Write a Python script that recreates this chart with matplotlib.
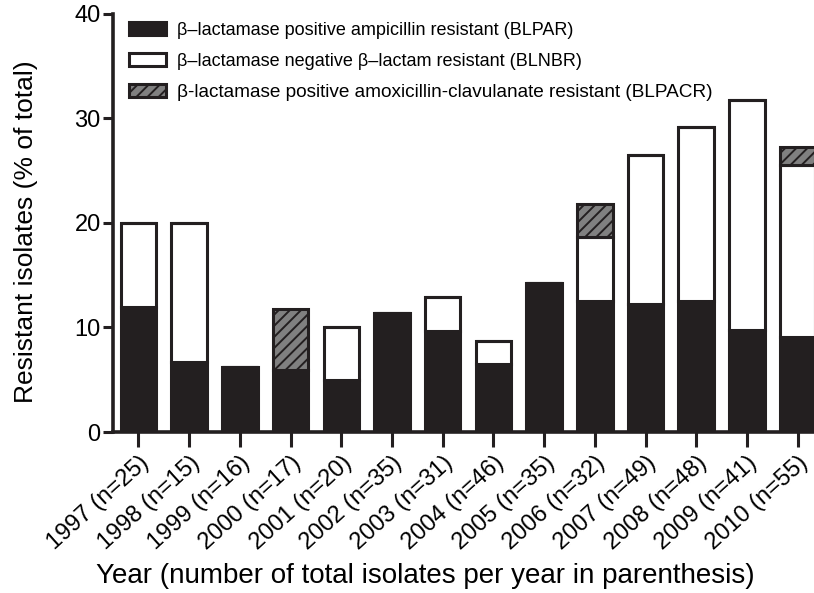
import numpy as np
import matplotlib.pyplot as plt

plt.rcParams['font.family'] = ['Liberation Sans', 'DejaVu Sans']
plt.rcParams['hatch.linewidth'] = 1.4

# Porcentajes
anios = ['1997 (n=25)', '1998 (n=15)', '1999 (n=16)', '2000 (n=17)', '2001 (n=20)',
         '2002 (n=35)', '2003 (n=31)', '2004 (n=46)', '2005 (n=35)', '2006 (n=32)',
         '2007 (n=49)', '2008 (n=48)', '2009 (n=41)', '2010 (n=55)']
blpar = [12.0, 6.7, 6.2, 5.9, 5.0, 11.4, 9.7, 6.5, 14.3, 12.5, 12.2, 12.5, 9.8, 9.1]
blnbr = [8.0, 13.3, 0, 0, 5.0, 0, 3.2, 2.2, 0, 6.2, 14.3, 16.7, 22.0, 16.4]
blpacr = [0, 0, 0, 5.9, 0, 0, 0, 0, 0, 3.1, 0, 0, 0, 1.8]

negro = '#231f20'
x = np.arange(len(anios))
base2 = np.array(blpar) + np.array(blnbr)

fig = plt.figure(figsize=(8.14, 5.93), dpi=100)
ax = fig.add_axes([0.139, 0.2715, 0.872, 0.705])

ax.bar(x, blpar, 0.7, color=negro, edgecolor=negro, linewidth=2.2,
       label='β–lactamase positive ampicillin resistant (BLPAR)')
ax.bar(x, blnbr, 0.7, bottom=blpar, color='white', edgecolor=negro, linewidth=2.2,
       label='β–lactamase negative β–lactam resistant (BLNBR)')
ax.bar(x, blpacr, 0.7, bottom=base2, color='#808080', edgecolor=negro, linewidth=2.2,
       hatch='///', label='β-lactamase positive amoxicillin-clavulanate resistant (BLPACR)')

ax.set_xlim(-0.5, 13.5)
ax.set_ylim(0, 40)
ax.set_yticks([0, 10, 20, 30, 40])
ax.set_xticks(x)
ax.set_xticklabels(anios, rotation=42, ha='right', rotation_mode='anchor', fontsize=17)
ax.tick_params(axis='y', labelsize=17, width=2.2, length=7, color=negro, pad=2)
ax.tick_params(axis='x', width=2.2, length=11, color=negro, pad=3)

ax.spines['top'].set_visible(False)
ax.spines['right'].set_visible(False)
ax.spines['left'].set_linewidth(2.6)
ax.spines['bottom'].set_linewidth(2.6)
ax.spines['left'].set_color(negro)
ax.spines['bottom'].set_color(negro)

ax.set_ylabel('Resistant isolates (% of total)', fontsize=19)
ax.yaxis.set_label_coords(-0.106, 0.478)
ax.set_xlabel('Year (number of total isolates per year in parenthesis)', fontsize=20)
ax.xaxis.set_label_coords(0.44, -0.313)

leg = ax.legend(loc='upper left', bbox_to_anchor=(0.0, 1.02), frameon=False, fontsize=13,
                handlelength=2.0, handleheight=0.72, labelspacing=0.78, handletextpad=0.65)
leg.get_texts()[2].set_fontsize(13.7)

fig.savefig('out.png', dpi=100)
